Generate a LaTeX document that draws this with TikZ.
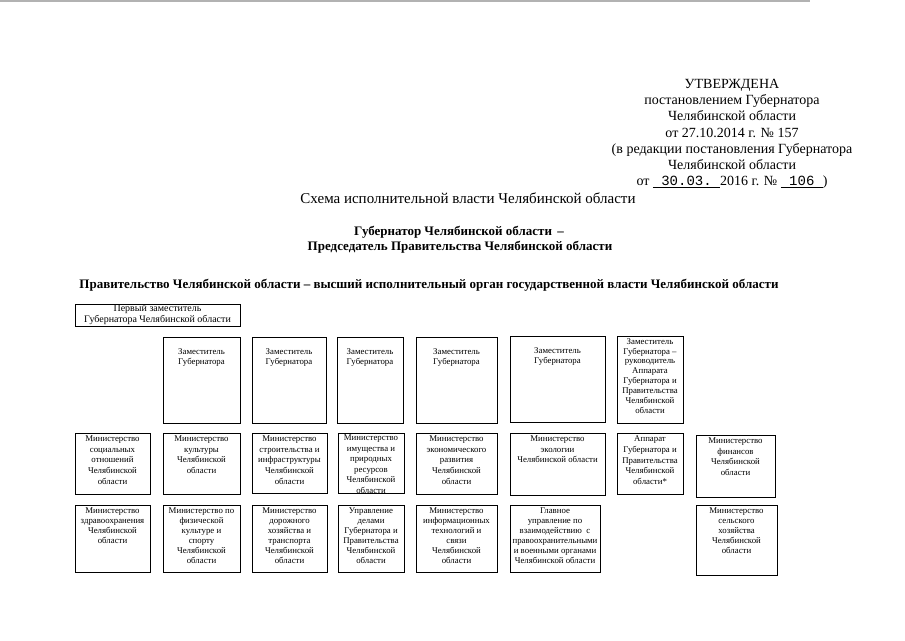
\documentclass[tikz,border=0pt]{standalone}
\usepackage{fontspec}
\setmainfont{Liberation Serif}
\setmonofont{Liberation Mono}
\usetikzlibrary{fit}
\newcommand{\orgbox}[3]{\node[frame, fit={(#2) (#3)}] (#1) {};}
\begin{document}
\begin{tikzpicture}[x=1pt,y=-1pt,
  frame/.style={draw=black, line width=0.8pt, inner sep=0pt},
  boxtext/.style={anchor=north, align=center, inner sep=0pt, font=\fontsize{8.8}{10.7}\selectfont},
  boxtextb/.style={anchor=north, align=center, inner sep=0pt, font=\fontsize{8.8}{10}\selectfont},
  deptext/.style={anchor=north, align=center, inner sep=0pt, font=\fontsize{8.8}{10.3}\selectfont},
  headbold/.style={anchor=base, inner sep=0pt, font=\bfseries\fontsize{13}{15}\selectfont},
]
\useasboundingbox[fill=white] (0,0) rectangle (905,640);
\draw[gray!60, line width=1.2pt] (0,1) -- (810,1);

% header
\node[anchor=north, align=center, inner sep=0pt, font=\fontsize{14}{16.2}\selectfont] (approved) at (732,79)
 {УТВЕРЖДЕНА\\постановлением Губернатора\\Челябинской области\\от 27.10.2014 г. № 157\\(в редакции постановления Губернатора\\Челябинской области\\от \underline{\texttt{~30.03.~}}2016 г. № \underline{\texttt{~106~}})};

\node[anchor=base, inner sep=0pt, font=\fontsize{15}{18}\selectfont] (title) at (468,203) {Схема исполнительной власти Челябинской области};
\node[headbold] (gov1) at (459,235.5) {Губернатор Челябинской области\hspace{0.4em}–};
\node[headbold] (gov2) at (460,250) {Председатель Правительства Челябинской области};
\node[headbold] (govt) at (429,288) {Правительство Челябинской области – высший исполнительный орган государственной власти Челябинской области};

% first deputy
\orgbox{fd}{75,304}{240,326}
\node[anchor=center, align=center, inner sep=0pt, font=\fontsize{10}{11}\selectfont] (fdt) at (fd.center) {Первый заместитель\\Губернатора Челябинской области};

% deputies
\orgbox{d1}{163,337}{240,423}
\orgbox{d2}{252,337}{326,423}
\orgbox{d3}{337,337}{403,423}
\orgbox{d4}{416,337}{497,423}
\orgbox{d5}{510,336}{605,422}
\orgbox{d6}{617,336}{683,423}
\foreach \d in {d1,d2,d3,d4,d5}{
  \node[deptext] (\d t) at ([yshift=-12pt]\d.north) {Заместитель\\Губернатора};
}
\node[anchor=north, align=center, inner sep=0pt, font=\fontsize{8.8}{9.9}\selectfont] (d6t) at ([yshift=-2.5pt]d6.north) {Заместитель\\Губернатора –\\руководитель\\Аппарата\\Губернатора и\\Правительства\\Челябинской\\области};

% row 1
\orgbox{a1}{75,433}{150,494}
\orgbox{a2}{163,433}{240,494}
\orgbox{a3}{252,433}{327,493}
\orgbox{a4}{338,433}{404,493}
\orgbox{a5}{416,433}{497,494}
\orgbox{a6}{510,433}{605,495}
\orgbox{a7}{617,433}{683,494}
\orgbox{a8}{696,435}{775,497}
\node[boxtext] (a1t) at ([yshift=-3pt]a1.north) {Министерство\\социальных\\отношений\\Челябинской\\области};
\node[boxtext] (a2t) at ([yshift=-3pt]a2.north) {Министерство\\культуры\\Челябинской\\области};
\node[boxtext] (a3t) at ([yshift=-3pt]a3.north) {Министерство\\строительства и\\инфраструктуры\\Челябинской\\области};
\node[anchor=north, align=center, inner sep=0pt, font=\fontsize{8.8}{10.5}\selectfont] (a4t) at ([yshift=-2pt]a4.north) {Министерство\\имущества и\\природных\\ресурсов\\Челябинской\\области};
\node[boxtext] (a5t) at ([yshift=-3pt]a5.north) {Министерство\\экономического\\развития\\Челябинской\\области};
\node[boxtext] (a6t) at ([yshift=-3pt]a6.north) {Министерство\\экологии\\Челябинской области};
\node[boxtext] (a7t) at ([yshift=-3pt]a7.north) {Аппарат\\Губернатора и\\Правительства\\Челябинской\\области*};
\node[boxtext] (a8t) at ([yshift=-3pt]a8.north) {Министерство\\финансов\\Челябинской\\области};

% row 2
\orgbox{b1}{75,505}{150,572}
\orgbox{b2}{163,505}{240,572}
\orgbox{b3}{252,505}{327,572}
\orgbox{b4}{338,505}{404,572}
\orgbox{b5}{416,505}{497,572}
\orgbox{b6}{510,505}{600,572}
\orgbox{b8}{696,505}{777,575}
\node[boxtextb] (b1t) at ([yshift=-3pt]b1.north) {Министерство\\здравоохранения\\Челябинской\\области};
\node[boxtextb] (b2t) at ([yshift=-3pt]b2.north) {Министерство по\\физической\\культуре и\\спорту\\Челябинской\\области};
\node[boxtextb] (b3t) at ([yshift=-3pt]b3.north) {Министерство\\дорожного\\хозяйства и\\транспорта\\Челябинской\\области};
\node[boxtextb] (b4t) at ([yshift=-3pt]b4.north) {Управление\\делами\\Губернатора и\\Правительства\\Челябинской\\области};
\node[boxtextb] (b5t) at ([yshift=-3pt]b5.north) {Министерство\\информационных\\технологий и\\связи\\Челябинской\\области};
\node[boxtextb] (b6t) at ([yshift=-3pt]b6.north) {Главное\\управление по\\взаимодействию\ \ с\\правоохранительными\\и военными органами\\Челябинской области};
\node[boxtextb] (b8t) at ([yshift=-3pt]b8.north) {Министерство\\сельского\\хозяйства\\Челябинской\\области};
\end{tikzpicture}
\end{document}
